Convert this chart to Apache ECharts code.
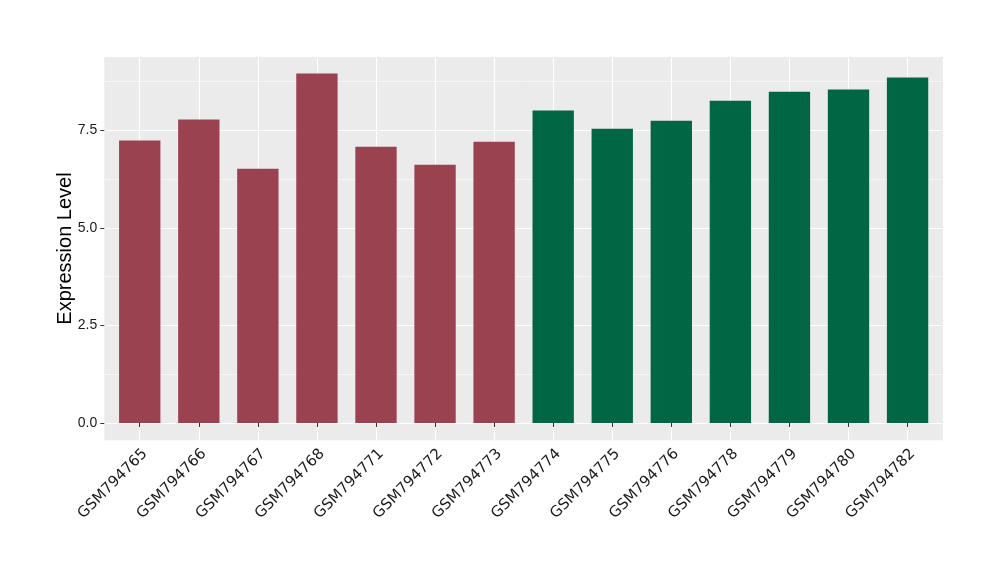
<!DOCTYPE html>
<html>
<head>
<meta charset="utf-8">
<script src="https://cdn.jsdelivr.net/npm/echarts@6/dist/echarts.min.js"></script>
<style>html,body{margin:0;padding:0;background:#fff}#c{width:1000px;height:580px}</style>
</head>
<body>
<div id="c"></div>
<script>
const categories = ['GSM794765','GSM794766','GSM794767','GSM794768','GSM794771','GSM794772','GSM794773','GSM794774','GSM794775','GSM794776','GSM794778','GSM794779','GSM794780','GSM794782'];
const values = [7.24, 7.78, 6.52, 8.96, 7.08, 6.62, 7.21, 8.01, 7.54, 7.75, 8.26, 8.49, 8.55, 8.86];
const groups = ['A','A','A','A','A','A','A','B','B','B','B','B','B','B'];
const groupColors = {A: '#9B4251', B: '#006644'};
const yTicks = [0, 2.5, 5, 7.5];

const FONT = 'Liberation Sans';
const PL = 104.3, PT = 56.7, PR = 943, PB = 440.3, Y0 = 423; // panel box (px)
const YMAX = 9.39;
const pxPerUnit = (Y0 - PT) / YMAX;
const YMIN = -(PB - Y0) / pxPerUnit;
const band = (PR - PL) / (categories.length + 0.2);
const catLeft = PL + 0.6 * band, catWidth = band * (categories.length - 1);

const chart = echarts.init(document.getElementById('c'), null, {renderer: 'canvas'});
chart.setOption({
  animation: false,
  backgroundColor: '#fff',
  grid: [
    {left: PL, top: PT, width: PR - PL, height: PB - PT, show: true, backgroundColor: '#EBEBEB', borderWidth: 0, z: 0},
    {left: PL, top: PT, width: PR - PL, height: Y0 - PT, show: false},
    {left: catLeft, top: PT, width: catWidth, height: PB - PT, show: false}
  ],
  xAxis: [
    {gridIndex: 0, type: 'value', show: false, min: 0, max: 1},
    {gridIndex: 1, type: 'value', show: false, min: 0, max: 1},
    {gridIndex: 2, type: 'category', data: categories, boundaryGap: false,
      axisLine: {show: false},
      axisTick: {show: true, length: 4, lineStyle: {color: '#333', width: 1}},
      axisLabel: {rotate: 45, margin: 6, verticalAlign: 'top', fontFamily: 'DejaVu Sans', fontSize: 15, color: '#1a1a1a', interval: 0},
      splitLine: {show: true, lineStyle: {color: '#fff', width: 1.1}}
    }
  ],
  yAxis: [
    {gridIndex: 0, type: 'value', min: 0, max: 1,
      name: 'Expression Level', nameLocation: 'middle', nameGap: 29, nameRotate: 90,
      nameTextStyle: {fontFamily: FONT, fontSize: 20, color: '#000'},
      axisLine: {show: false}, axisTick: {show: false}, axisLabel: {show: false},
      splitLine: {show: false}},
    {gridIndex: 1, type: 'value', min: 0, max: YMAX, interval: 2.5,
      axisLine: {show: false},
      axisTick: {show: true, length: 4, lineStyle: {color: '#333', width: 1}},
      axisLabel: {fontFamily: FONT, fontSize: 14, color: '#1a1a1a', margin: 7, showMaxLabel: false,
        formatter: v => yTicks.indexOf(v) >= 0 ? v.toFixed(1) : ''},
      splitLine: {show: true, lineStyle: {color: '#fff', width: 1.2}},
      minorTick: {show: false, splitNumber: 2},
      minorSplitLine: {show: true, lineStyle: {color: '#fff', width: 0.6}}
    },
    {gridIndex: 2, type: 'value', show: false, min: YMIN, max: YMAX, splitLine: {show: false}}
  ],
  series: [{
    type: 'bar', xAxisIndex: 2, yAxisIndex: 2, barWidth: '70%',
    data: values.map((v, i) => ({value: v, itemStyle: {color: groupColors[groups[i]]}})),
    z: 5
  }]
});
</script>
</body>
</html>
